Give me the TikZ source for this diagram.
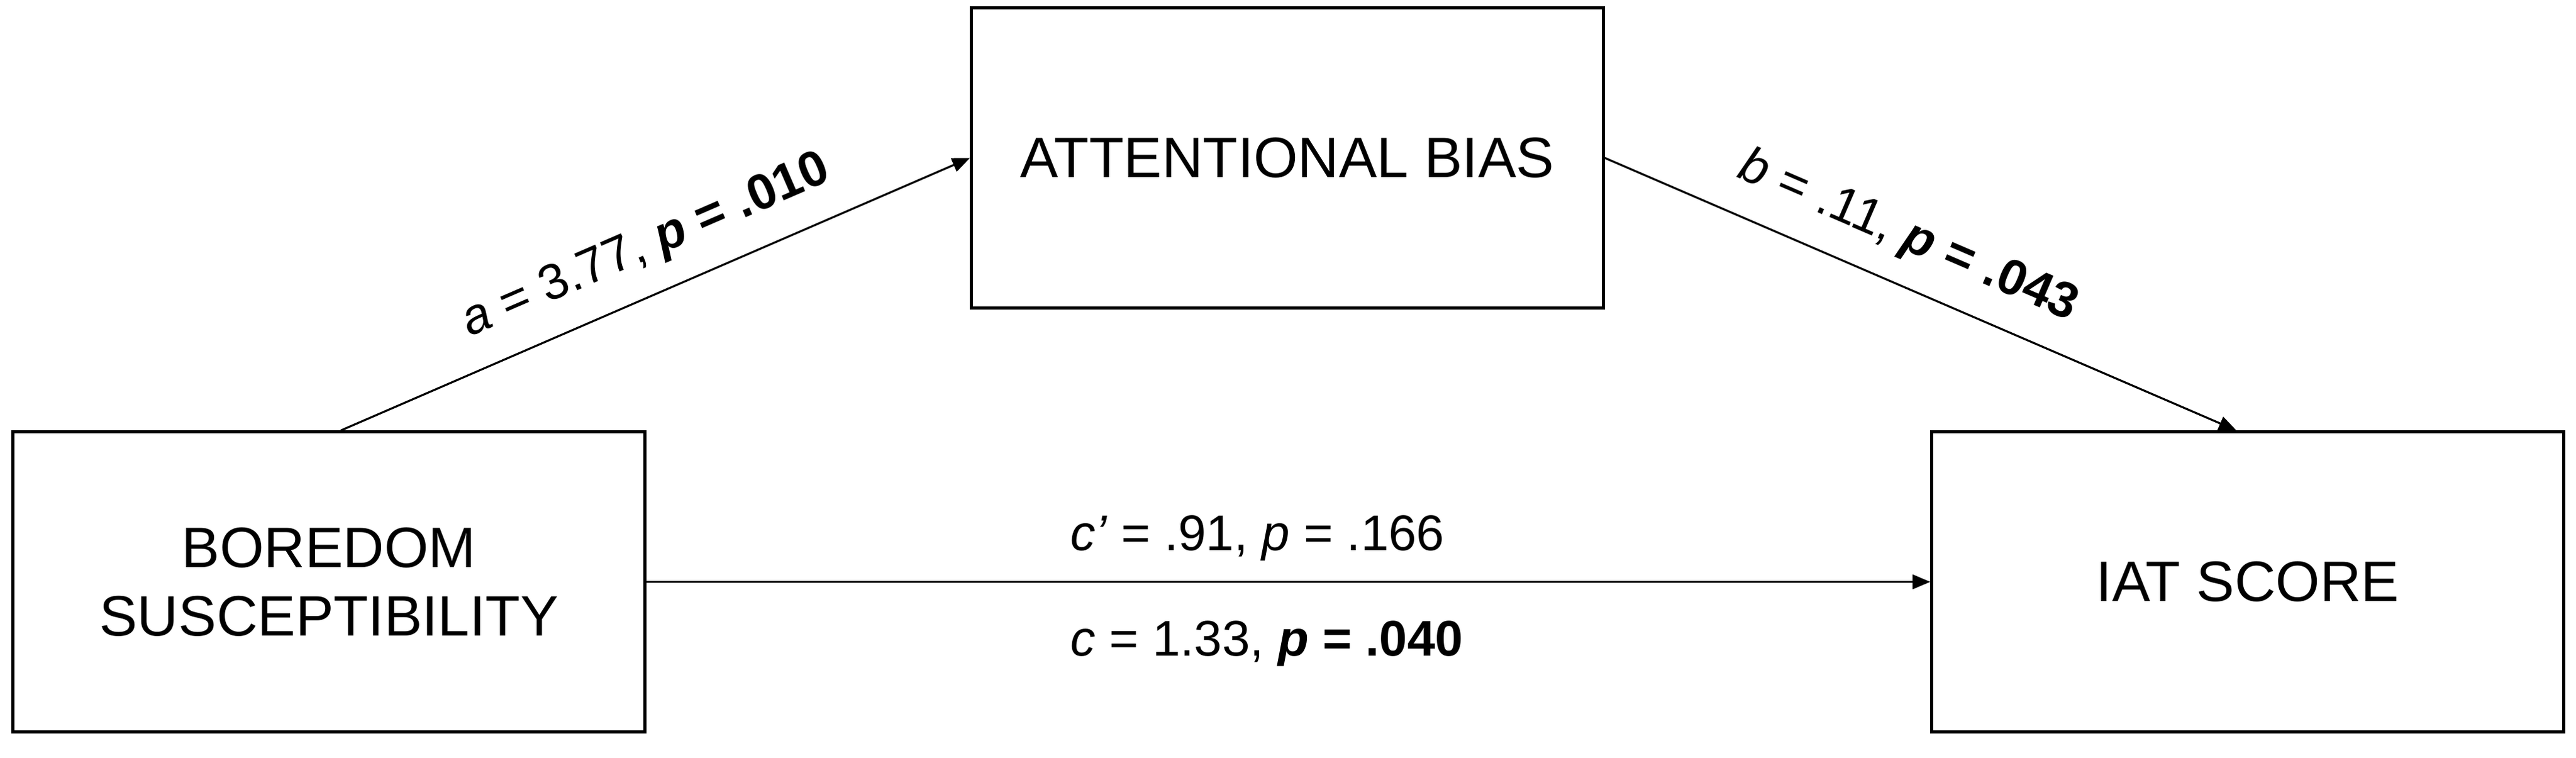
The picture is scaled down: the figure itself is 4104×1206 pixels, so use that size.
\documentclass[tikz,border=0pt]{standalone}
\usepackage{fontspec}
\setmainfont{Liberation Sans}
\usetikzlibrary{arrows.meta,calc}
\begin{document}
\begin{tikzpicture}[x=0.01cm,y=-0.01cm,
  varbox/.style={draw=black,line width=1.4pt,rectangle,inner sep=0pt,
    minimum width=10.06cm,minimum height=4.77cm,align=center,
    font=\fontsize{25.8}{31}\selectfont},
  conn/.style={draw=black,line width=0.9pt,-{Triangle[length=8pt,width=6.5pt]}},
  coef/.style={font=\fontsize{22.7}{27}\selectfont,inner sep=0pt}]
\useasboundingbox (0,0) rectangle (4104,1206);
\fill[white] (0,0) rectangle (4104,1206);
\node[varbox] (bs) at (524,926.5) {BOREDOM\\SUSCEPTIBILITY};
\node[varbox] (ab) at (2051,251.5) {ATTENTIONAL BIAS};
\node[varbox] (iat) at (3581,926.5) {IAT SCORE};
\draw[conn] ($(bs.north)+(19,0)$) -- (ab.west)
  node[coef,pos=0.515,sloped,anchor=base,yshift=0.55cm] {\textit{a} = 3.77, \textbf{\textit{p} = .010}};
\draw[conn] (ab.east) -- ($(iat.north)+(-18,0)$)
  node[coef,pos=0.45,sloped,anchor=base,yshift=0.55cm] {\textit{b} = .11, \textbf{\textit{p} = .043}};
\draw[conn] (bs.east) -- (iat.west);
\coordinate (cl) at ($(bs.east)!0.33!(iat.west)$);
\node[coef,anchor=base west] (cp) at ($(cl)+(0,-50)$) {\textit{c’} = .91, \textit{p} = .166};
\node[coef,anchor=base west] (ct) at ($(cl)+(0,118)$) {\textit{c} = 1.33, \textbf{\textit{p} = .040}};
\end{tikzpicture}
\end{document}
